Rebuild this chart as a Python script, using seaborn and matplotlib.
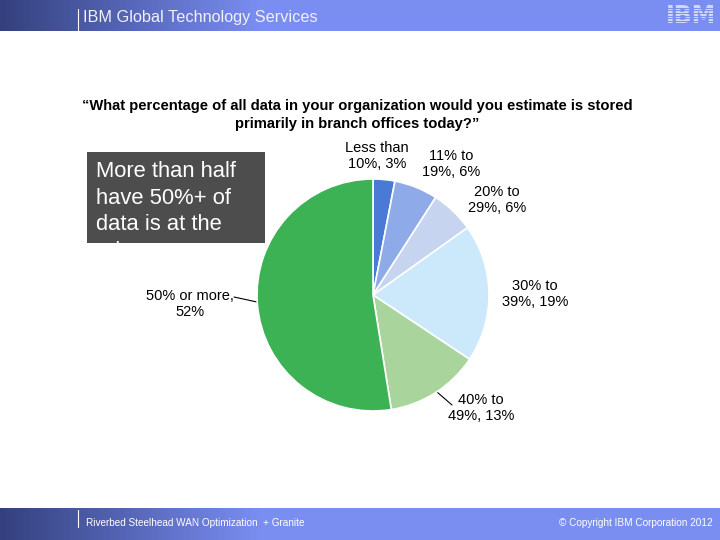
import numpy as np
import matplotlib
matplotlib.use("Agg")
import matplotlib.pyplot as plt
import matplotlib.colors as mcolors
import seaborn as sns

# ---- data ----
categories = ["Less than 10%", "11% to 19%", "20% to 29%", "30% to 39%", "40% to 49%", "50% or more"]
values = [3, 6, 6, 19, 13, 52]
label_texts = ["Less than\n10%, 3%", "11% to\n19%, 6%", "20% to\n29%, 6%",
               "30% to\n39%, 19%", "40% to\n49%, 13%", "50% or more,\n52%"]
slice_colors = ["#4a79d6", "#8eaae8", "#c7d4f0", "#cbe9fb", "#a9d49b", "#3db254"]
title_lines = ["\u201cWhat percentage of all data in your organization would you estimate is stored",
               "primarily in branch offices today?\u201d"]
callout_lines = ["More than half", "have 50%+ of", "data is at the", "edge"]
header_text = "IBM Global Technology Services"
footer_left = "Riverbed Steelhead WAN Optimization  + Granite"
footer_right = "\u00a9 Copyright IBM Corporation 2012"

sns.set_theme(style="white")
plt.rcParams['font.family'] = ['Liberation Sans', 'DejaVu Sans']

W, H = 720, 540
fig = plt.figure(figsize=(W / 100, H / 100), dpi=100)
fig.patch.set_facecolor("white")

# ---- background bands ----
bg = fig.add_axes([0, 0, 1, 1])
bg.set_xlim(0, W)
bg.set_ylim(H, 0)
bg.axis("off")
dark = np.array(mcolors.to_rgb("#34407e"))
light = np.array(mcolors.to_rgb("#7a8ef2"))
xs = np.linspace(0, 1, 360)
t = np.clip(xs * W / 260, 0, 1)[None, :, None]
grad = dark * (1 - t) + light * t
grad = np.repeat(grad, 2, axis=0)
bg.imshow(grad, extent=[0, W, 31, 0], aspect="auto", zorder=0)
bg.imshow(grad, extent=[0, W, 540, 508], aspect="auto", zorder=0)
bg.plot([78, 78], [9, 33], color="white", lw=0.8)
bg.plot([78, 78], [510, 527], color="white", lw=0.8)
bg.text(83, 17.5, header_text, color="#f0f0f8", fontsize=11.7, va="center", ha="left")
bg.text(716, 16, "IBM", color="#d0d7f7", fontsize=17, fontweight="bold", va="center", ha="right",
        family=["DejaVu Sans"], zorder=2)
for yy in np.arange(7.5, 26, 2.7):
    bg.plot([662, 718], [yy, yy], color="#7a8ef2", lw=0.7, zorder=3)
bg.text(86, 523, footer_left, color="white", fontsize=7.2, va="center", ha="left")
bg.text(713, 523, footer_right, color="white", fontsize=7.2, va="center", ha="right")

# title
bg.text(357, 106, title_lines[0], fontsize=10.6, fontweight="bold", ha="center", va="center", color="black")
bg.text(357, 124, title_lines[1], fontsize=10.6, fontweight="bold", ha="center", va="center", color="black")

# ---- pie ----
cx, cy, r = 373, 295, 116
ax = fig.add_axes([(cx - r) / W, (H - cy - r) / H, 2 * r / W, 2 * r / H])
wedges, _ = ax.pie(values, colors=slice_colors, startangle=90, counterclock=False,
                   wedgeprops=dict(edgecolor="white", linewidth=1.2))
ax.set_xlim(-1, 1)
ax.set_ylim(-1, 1)
ax.set_aspect("auto")
ax.axis("off")

# labels (pixel positions of label centers)
label_pos = [(377, 156), (451, 164), (497, 200), (535, 294), (481, 408), (190, 304)]
for txt, (lx, ly) in zip(label_texts, label_pos):
    bg.text(lx, ly, txt, fontsize=10.5, ha="center", va="center", color="black", linespacing=1.2)
bg.plot([437, 452], [392, 405], color="black", lw=0.8)
bg.plot([234, 257], [297, 302], color="black", lw=0.8)

# ---- callout box (text clipped at bottom) ----
box = fig.add_axes([87 / W, (H - 243) / H, (265 - 87) / W, (243 - 152) / H])
box.set_xlim(0, 1)
box.set_ylim(1, 0)
box.set_facecolor("#4d4d4d")
for s in box.spines.values():
    s.set_visible(False)
box.set_xticks([])
box.set_yticks([])
for i, line in enumerate(callout_lines):
    box.text(0.05, (19.5 + i * 26.5) / 91, line, color="white", fontsize=15.8, ha="left", va="center",
             clip_on=True)

fig.savefig("out.png", dpi=100, facecolor="white")
